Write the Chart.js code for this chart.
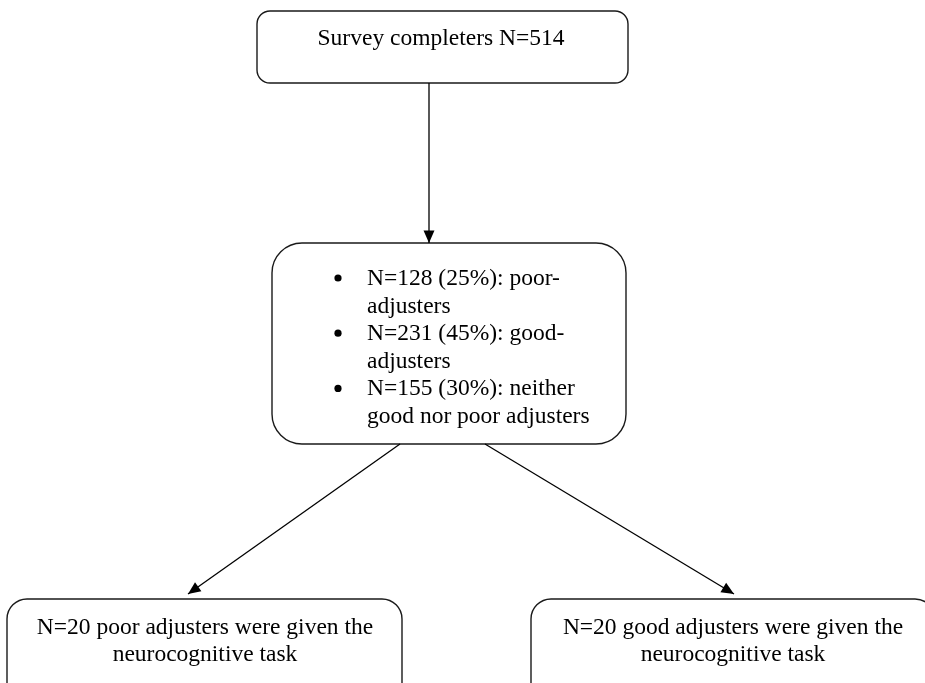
<!DOCTYPE html>
<html>
<head>
<meta charset="utf-8">
<script src="https://cdn.jsdelivr.net/npm/chart.js@4.4.1/dist/chart.umd.min.js"></script>
<style>
  html, body { margin: 0; padding: 0; background: #ffffff; }
  canvas { display: block; }
</style>
</head>
<body>
<canvas id="c" width="925" height="683"></canvas>
<script>
// ---- content (texts of the flow chart) ----
const topLabel = ["Survey completers N=514"];
const groupLines = [
  ["N=128 (25%): poor-", "adjusters"],
  ["N=231 (45%): good-", "adjusters"],
  ["N=155 (30%): neither", "good nor poor adjusters"]
];
const leftLabel = ["N=20 poor adjusters were given the", "neurocognitive task"];
const rightLabel = ["N=20 good adjusters were given the", "neurocognitive task"];

// ---- layout (positions in page units, used through the chart scales) ----
const boxes = [
  { x0: 257, y0: 11,  x1: 628, y1: 83,  r: 13 },
  { x0: 272, y0: 243, x1: 626, y1: 444, r: 30 },
  { x0: 7,   y0: 599, x1: 402, y1: 720, r: 20 },
  { x0: 531, y0: 599, x1: 935, y1: 720, r: 20 }
];
const arrowFrom = [[429, 83], [400, 444], [485, 444]];
const arrowTo   = [[429, 243], [188, 594], [734, 594]];

const FONT = '23.5px "Liberation Serif", "Times New Roman", serif';
const INK = '#000000';

const arrowDatasets = arrowFrom.map((f, i) => ({
  label: 'arrow' + i,
  data: [{ x: f[0], y: f[1] }, { x: arrowTo[i][0], y: arrowTo[i][1] }],
  showLine: true,
  borderColor: INK,
  borderWidth: 1.3,
  pointRadius: 0,
  pointHoverRadius: 0,
  fill: false
}));

const flowPlugin = {
  id: 'flow',
  beforeDatasetsDraw(chart) {
    const { ctx, scales: { x, y } } = chart;
    ctx.save();
    ctx.strokeStyle = '#1a1a1a';
    ctx.lineWidth = 1.4;
    boxes.forEach(b => {
      const px0 = x.getPixelForValue(b.x0), px1 = x.getPixelForValue(b.x1);
      const py0 = y.getPixelForValue(b.y0), py1 = y.getPixelForValue(b.y1);
      ctx.beginPath();
      ctx.roundRect(px0, py0, px1 - px0, py1 - py0, b.r);
      ctx.stroke();
    });
    ctx.restore();
  },
  afterDatasetsDraw(chart) {
    const { ctx, scales: { x, y } } = chart;
    ctx.save();
    // arrowheads at the end of each connector
    ctx.fillStyle = INK;
    chart.data.datasets.forEach((ds, i) => {
      const meta = chart.getDatasetMeta(i);
      const p0 = meta.data[0], p1 = meta.data[1];
      const ang = Math.atan2(p1.y - p0.y, p1.x - p0.x);
      const len = 12.5, half = 5.5;
      ctx.beginPath();
      ctx.moveTo(p1.x, p1.y);
      ctx.lineTo(p1.x - len * Math.cos(ang) + half * Math.sin(ang),
                 p1.y - len * Math.sin(ang) - half * Math.cos(ang));
      ctx.lineTo(p1.x - len * Math.cos(ang) - half * Math.sin(ang),
                 p1.y - len * Math.sin(ang) + half * Math.cos(ang));
      ctx.closePath();
      ctx.fill();
    });

    ctx.font = FONT;
    ctx.fillStyle = INK;
    ctx.textBaseline = 'alphabetic';

    // top box
    ctx.textAlign = 'center';
    topLabel.forEach((t, k) => {
      ctx.fillText(t, x.getPixelForValue(441), y.getPixelForValue(45 + k * 27.6));
    });

    // middle box: bulleted list
    ctx.textAlign = 'left';
    let line = 0;
    groupLines.forEach(item => {
      const by = y.getPixelForValue(285 + line * 27.6 - 7);
      ctx.beginPath();
      ctx.arc(x.getPixelForValue(338), by, 3.6, 0, Math.PI * 2);
      ctx.fill();
      item.forEach(t => {
        ctx.fillText(t, x.getPixelForValue(367), y.getPixelForValue(285 + line * 27.6));
        line++;
      });
    });

    // bottom boxes
    ctx.textAlign = 'center';
    leftLabel.forEach((t, k) => {
      ctx.fillText(t, x.getPixelForValue(205), y.getPixelForValue(634 + k * 27));
    });
    rightLabel.forEach((t, k) => {
      ctx.fillText(t, x.getPixelForValue(733), y.getPixelForValue(634 + k * 27));
    });
    ctx.restore();
  }
};

new Chart(document.getElementById('c'), {
  type: 'scatter',
  data: { datasets: arrowDatasets },
  options: {
    responsive: false,
    animation: false,
    events: [],
    layout: { padding: 0 },
    scales: {
      x: { type: 'linear', min: 0, max: 925, display: false },
      y: { type: 'linear', min: 0, max: 683, reverse: true, display: false }
    },
    plugins: {
      legend: { display: false },
      tooltip: { enabled: false },
      title: { display: false }
    }
  },
  plugins: [flowPlugin]
});
</script>
</body>
</html>
